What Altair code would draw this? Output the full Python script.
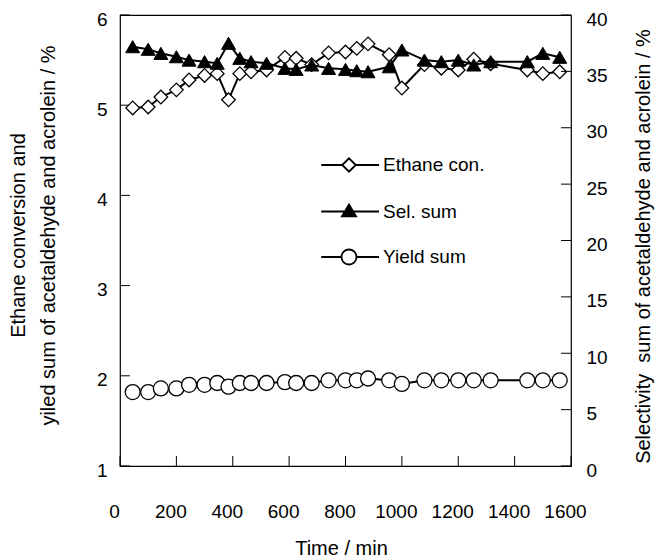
import altair as alt
import pandas as pd

# ---------------- data ----------------
times = [45, 100, 145, 200, 245, 300, 345, 385, 425, 465, 520, 585, 625, 680,
         740, 800, 840, 880, 955, 1000, 1080, 1140, 1200, 1255, 1315, 1445, 1500, 1560]
ethane = [4.97, 4.98, 5.09, 5.17, 5.28, 5.33, 5.35, 5.06, 5.35, 5.37, 5.39, 5.53, 5.52, 5.45,
          5.58, 5.59, 5.63, 5.68, 5.56, 5.19, 5.45, 5.41, 5.39, 5.51, 5.46, 5.39, 5.35, 5.37]
selectivity = [37.19, 36.96, 36.6, 36.3, 36.0, 35.86, 35.72, 37.49, 36.16, 35.86, 35.72, 35.27, 35.18, 35.57,
               35.27, 35.18, 35.06, 34.97, 35.41, 36.9, 36.0, 35.86, 36.0, 35.57, 35.86, 35.86, 36.6, 36.25]
yield_sum = [1.82, 1.82, 1.86, 1.86, 1.90, 1.90, 1.92, 1.88, 1.92, 1.92, 1.92, 1.93, 1.92, 1.92,
             1.95, 1.95, 1.95, 1.97, 1.95, 1.91, 1.95, 1.95, 1.95, 1.95, 1.95, 1.95, 1.95, 1.95]

x_tick_values = [0, 200, 400, 600, 800, 1000, 1200, 1400, 1600]
left_tick_values = [1, 2, 3, 4, 5, 6]
right_tick_values = [0, 5, 10, 15, 20, 25, 30, 35, 40]
x_range = [0, 1600]
left_range = [1, 6]
right_range = [0, 40]

legend_labels = ["Ethane con.", "Sel. sum", "Yield sum"]
legend_fills = ["white", "black", "white"]
legend_strokes = ["black", "black", "black"]
legend_paths = [
    "M-1.85,0L-0.45,0M0.45,0L2,0M-0.45,0L0,-0.45L0.45,0L0,0.45Z",
    "M-1.85,0L2,0M-0.47,0.33L0.47,0.33L0,-0.47Z",
    "M-1.85,0L-0.5,0M0.5,0L2,0M-0.5,0A0.5,0.5,0,1,1,0.5,0A0.5,0.5,0,1,1,-0.5,0Z",
]

left_title = ["Ethane conversion and", "yiled sum of acetaldehyde and acrolein / %"]
right_title = "Selectivity\u00a0 sum of acetaldehyde and acrolein / %"
x_title = "Time / min"

# ---------------- chart ----------------
W, H = 451, 451
FONT = "Liberation Sans"
FS = 19
TFS = 20
TICK = 10  # inward tick length (px)


def pad(values, n):
    return list(values) + [None] * (n - len(values))


n = len(times)
df = pd.DataFrame({
    "time": times, "ethane": ethane, "sel": selectivity, "yield": yield_sum,
    "xt": pad(x_tick_values, n), "lt": pad(left_tick_values, n), "rt": pad(right_tick_values, n),
})
base = alt.Chart(df)

xscale = alt.Scale(domain=x_range, nice=False, zero=False)
lscale = alt.Scale(domain=left_range, nice=False, zero=False)
rscale = alt.Scale(domain=right_range, nice=False, zero=False)

x_main = alt.X("time:Q", scale=xscale, axis=alt.Axis(
    orient="bottom", values=x_tick_values, tickSize=0, domain=False, grid=False,
    labelPadding=36, labelFlush=False, labelOffset=-6, format="d",
    title=x_title, titleX=221, titleY=82, titleAlign="center", titleBaseline="middle"))
x_none = alt.X("time:Q", scale=xscale, axis=None)

y_eth = alt.Y("ethane:Q", scale=lscale, axis=alt.Axis(
    orient="left", values=left_tick_values, tickSize=0, domain=False, grid=False,
    labelPadding=13, labelOffset=4, format="d",
    title=left_title, titleX=-102, titleY=220, titleAngle=270, titleAlign="center",
    titleBaseline="middle", titleLineHeight=30))

y_sel = alt.Y("sel:Q", scale=rscale, axis=alt.Axis(
    orient="right", values=right_tick_values, tickSize=0, domain=False, grid=False,
    labelPadding=15, labelOffset=4, format="d",
    title=right_title, titleX=72, titleY=231, titleAngle=270, titleAlign="center",
    titleBaseline="middle"))

# ---- left-axis group ----
eth_line = base.mark_line(color="black", strokeWidth=2).encode(x=x_main, y=y_eth)
left_ticks = base.transform_filter("isValid(datum.lt)").mark_rule(color="black", strokeWidth=1).encode(
    y=alt.Y("lt:Q", scale=lscale, axis=None), x=alt.value(0), x2=alt.value(TICK))
bottom_ticks = base.transform_filter("isValid(datum.xt)").mark_rule(color="black", strokeWidth=1).encode(
    x=alt.X("xt:Q", scale=xscale, axis=None), y=alt.value(H), y2=alt.value(H - TICK))
eth_pts = base.mark_point(shape="diamond", filled=True, fill="white", stroke="black",
                          strokeWidth=1.3, size=185, opacity=1).encode(
    x=x_none, y=alt.Y("ethane:Q", scale=lscale, axis=None))
yld_line = base.mark_line(color="black", strokeWidth=2).encode(
    x=x_none, y=alt.Y("yield:Q", scale=lscale, axis=None))
yld_pts = base.mark_point(shape="circle", filled=True, fill="white", stroke="black",
                          strokeWidth=1.3, size=225, opacity=1).encode(
    x=x_none, y=alt.Y("yield:Q", scale=lscale, axis=None))
left = alt.layer(eth_line, left_ticks, bottom_ticks, eth_pts, yld_line, yld_pts).resolve_axis(
    x="independent", y="independent")

# ---- right-axis group ----
sel_line = base.mark_line(color="black", strokeWidth=2).encode(x=x_none, y=y_sel)
right_ticks = base.transform_filter("isValid(datum.rt)").mark_rule(color="black", strokeWidth=1).encode(
    y=alt.Y("rt:Q", scale=rscale, axis=None), x=alt.value(W), x2=alt.value(W - TICK))
sel_pts = base.mark_point(shape="triangle-up", filled=True, fill="black", stroke="black",
                          strokeWidth=1, size=196, opacity=1).encode(
    x=x_none, y=alt.Y("sel:Q", scale=rscale, axis=None))
right = alt.layer(sel_line, right_ticks, sel_pts).resolve_axis(x="independent", y="independent")

# ---- legend ----
leg = alt.Legend(orient="none", legendX=213, legendY=134, title=None, padding=0,
                 symbolSize=900, symbolStrokeWidth=1.8, symbolStrokeColor="black",
                 symbolOpacity=1, labelFont=FONT, labelFontSize=FS, labelColor="black",
                 labelOffset=18, rowPadding=19.5, labelLimit=300)
legend_df = pd.DataFrame({"series": legend_labels})
legend_layer = alt.Chart(legend_df).transform_filter("false").mark_point(
    filled=True, stroke="black", strokeWidth=1.8, opacity=1).encode(
    shape=alt.Shape("series:N", scale=alt.Scale(domain=legend_labels, range=legend_paths), legend=leg),
    fill=alt.Fill("series:N", scale=alt.Scale(domain=legend_labels, range=legend_fills), legend=leg),
    stroke=alt.Stroke("series:N", scale=alt.Scale(domain=legend_labels, range=legend_strokes), legend=leg),
)

chart = alt.layer(left, right, legend_layer).resolve_scale(y="independent").properties(
    width=W, height=H,
    padding={"left": 120, "top": 15, "right": 84, "bottom": 92},
    autosize=alt.AutoSizeParams(type="none"),
    background="white",
).configure_view(stroke="black", strokeWidth=1.2).configure_axis(
    labelFont=FONT, titleFont=FONT, labelFontSize=FS, titleFontSize=TFS,
    labelColor="black", titleColor="black", tickColor="black", tickWidth=1,
    titleFontWeight="normal",
)

chart.save("out.html", embed_options={"renderer": "svg", "actions": False})
